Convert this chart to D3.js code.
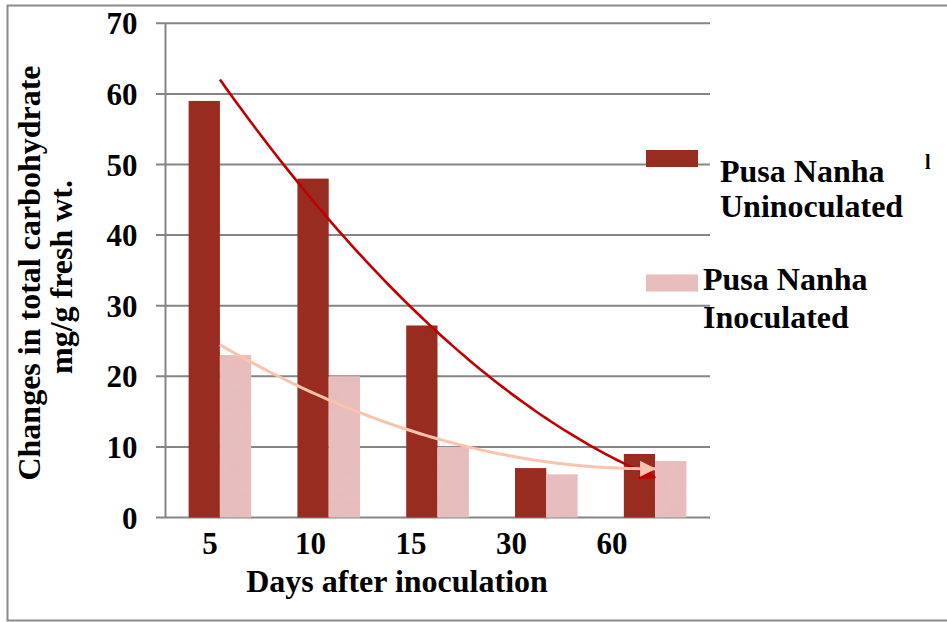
<!DOCTYPE html>
<html>
<head>
<meta charset="utf-8">
<script src="https://cdn.jsdelivr.net/npm/d3@7"></script>
<style>
  html, body { margin: 0; padding: 0; background: #fff; }
  svg { display: block; }
  text { font-family: "Liberation Serif", "Times New Roman", serif; font-weight: bold; fill: #000; }
</style>
</head>
<body>
<svg id="chart" width="947" height="622"></svg>
<script>
// Total carbohydrate (mg/g fresh wt.) by days after inoculation
const categories = ["5", "10", "15", "30", "60"];
const uninoculated = [59, 48, 27.2, 7, 9];
const inoculated = [23, 20, 10, 6.1, 8];
const yTicks = [0, 10, 20, 30, 40, 50, 60, 70];
const seriesLabels = [["Pusa Nanha", "Uninoculated"], ["Pusa Nanha", "Inoculated"]];
const yTitle = ["Changes in total carbohydrate", "mg/g fresh wt."];
const xTitle = "Days after inoculation";

const colors = { dark: "#992C21", pink: "#E8BCBC", darkTrend: "#C00000", pinkTrend: "#F9C3AE", grid: "#858585" };

const svg = d3.select("#chart");
const defs = svg.append("defs");

// subtle mottled texture for the light bars
const f = defs.append("filter").attr("id", "mottle").attr("x", 0).attr("y", 0).attr("width", 1).attr("height", 1);
f.append("feTurbulence").attr("type", "fractalNoise").attr("baseFrequency", 0.07).attr("numOctaves", 2).attr("seed", 4).attr("result", "n");
f.append("feColorMatrix").attr("in", "n").attr("type", "matrix")
  .attr("values", "0 0 0 0 0.76  0 0 0 0 0.52  0 0 0 0 0.52  0 0 0 0.7 -0.18").attr("result", "tint");
f.append("feComposite").attr("in", "tint").attr("in2", "SourceGraphic").attr("operator", "in").attr("result", "t2");
const fm = f.append("feMerge");
fm.append("feMergeNode").attr("in", "SourceGraphic");
fm.append("feMergeNode").attr("in", "t2");

// arrowheads for trend lines
function arrow(id, color) {
  defs.append("marker").attr("id", id)
    .attr("markerUnits", "userSpaceOnUse")
    .attr("viewBox", "0 0 16 16")
    .attr("markerWidth", 16).attr("markerHeight", 16)
    .attr("refX", 15).attr("refY", 8)
    .attr("orient", "auto")
    .append("path").attr("d", "M0,0 L16,8 L0,16 Z").attr("fill", color);
}
arrow("arrDark", colors.darkTrend);
arrow("arrPink", colors.pinkTrend);

// outer frame
svg.append("rect").attr("x", 7.5).attr("y", 5.5).attr("width", 960).attr("height", 615)
  .attr("fill", "none").attr("stroke", "#8a8a8a").attr("stroke-width", 2);

const plot = { left: 165.5, right: 709.5, top: 23.3, bottom: 517.5, gridStart: 156 };

const y = d3.scaleLinear().domain([0, 70]).range([plot.bottom, plot.top]);
const x0 = d3.scaleBand().domain(categories).range([plot.left, plot.right])
  .paddingInner(0.425).paddingOuter(0.2125);
const x1 = d3.scaleBand().domain(["u", "i"]).range([0, x0.bandwidth()]);
const xLabel = d3.scalePoint().domain(categories).range([210, 612]);

// gridlines
svg.append("g").selectAll("line").data(yTicks).join("line")
  .attr("x1", plot.gridStart).attr("x2", plot.right + 0.5)
  .attr("y1", d => y(d)).attr("y2", d => y(d))
  .attr("stroke", colors.grid).attr("stroke-width", 2);

// y axis line
svg.append("line").attr("x1", plot.left).attr("x2", plot.left)
  .attr("y1", y(70)).attr("y2", y(0))
  .attr("stroke", colors.grid).attr("stroke-width", 2);

// y tick labels
const yAxis = svg.append("g").attr("transform", `translate(${plot.left},0)`)
  .call(d3.axisLeft(y).tickValues(yTicks).tickSize(0).tickPadding(28));
yAxis.select(".domain").remove();
yAxis.selectAll("text").attr("font-size", 31).attr("font-family", null).attr("fill", "#000")
  .attr("dy", "0.34em");

// bars
const rows = categories.map((c, i) => ({ c, u: uninoculated[i], i: inoculated[i] }));
const g = svg.append("g");
g.selectAll("rect.u").data(rows).join("rect").attr("class", "u")
  .attr("x", d => x0(d.c) + x1("u")).attr("width", x1.bandwidth())
  .attr("y", d => y(d.u)).attr("height", d => y(0) - y(d.u))
  .attr("fill", colors.dark);
g.selectAll("rect.i").data(rows).join("rect").attr("class", "i")
  .attr("x", d => x0(d.c) + x1("i")).attr("width", x1.bandwidth())
  .attr("y", d => y(d.i)).attr("height", d => y(0) - y(d.i))
  .attr("fill", colors.pink).attr("filter", "url(#mottle)");

// second-order polynomial trend lines (least squares over category index)
function quadFit(vals) {
  const n = vals.length;
  let s0 = n, s1 = 0, s2 = 0, s3 = 0, s4 = 0, t0 = 0, t1 = 0, t2 = 0;
  vals.forEach((v, k) => {
    s1 += k; s2 += k * k; s3 += k ** 3; s4 += k ** 4;
    t0 += v; t1 += k * v; t2 += k * k * v;
  });
  const M = [[s0, s1, s2, t0], [s1, s2, s3, t1], [s2, s3, s4, t2]];
  for (let i = 0; i < 3; i++) {
    for (let j = i + 1; j < 3; j++) {
      const r = M[j][i] / M[i][i];
      for (let k = i; k < 4; k++) M[j][k] -= r * M[i][k];
    }
  }
  const c = [0, 0, 0];
  for (let i = 2; i >= 0; i--) {
    let s = M[i][3];
    for (let k = i + 1; k < 3; k++) s -= M[i][k] * c[k];
    c[i] = s / M[i][i];
  }
  return t => c[0] + c[1] * t + c[2] * t * t;
}
const xIdx = d3.scaleLinear().domain([0, categories.length - 1])
  .range([x0(categories[0]) + x0.bandwidth() / 2, x0(categories[categories.length - 1]) + x0.bandwidth() / 2]);
const line = d3.line().x(d => xIdx(d[0])).y(d => y(d[1])).curve(d3.curveLinear);
function trend(vals, color, marker, width) {
  const fn = quadFit(vals);
  const pts = d3.range(0, categories.length - 1 + 1e-9, 0.05).map(t => [t, fn(t)]);
  svg.append("path").attr("d", line(pts)).attr("fill", "none")
    .attr("stroke", color).attr("stroke-width", width)
    .attr("marker-end", `url(#${marker})`);
}
trend(uninoculated, colors.darkTrend, "arrDark", 2.6);
trend(inoculated, colors.pinkTrend, "arrPink", 3);

// x tick labels
svg.append("g").selectAll("text").data(categories).join("text")
  .attr("x", d => xLabel(d)).attr("y", 554)
  .attr("text-anchor", "middle").attr("font-size", 31).text(d => d);

// axis titles
svg.append("text").attr("x", 397).attr("y", 592).attr("text-anchor", "middle")
  .attr("font-size", 32).text(xTitle);
svg.append("text").attr("transform", "translate(40,273) rotate(-90)")
  .attr("text-anchor", "middle").attr("font-size", 32).text(yTitle[0]);
svg.append("text").attr("transform", "translate(72,277) rotate(-90)")
  .attr("text-anchor", "middle").attr("font-size", 32).text(yTitle[1]);

// legend
const legend = [
  { fill: colors.dark, filter: null, sy: 150, tx: 720, ty: [182, 217] },
  { fill: colors.pink, filter: "url(#mottle)", sy: 274.5, tx: 703, ty: [290, 328] }
];
legend.forEach((l, k) => {
  svg.append("rect").attr("x", 646).attr("y", l.sy).attr("width", 52).attr("height", 17)
    .attr("fill", l.fill).attr("filter", l.filter);
  seriesLabels[k].forEach((s, j) => {
    svg.append("text").attr("x", l.tx).attr("y", l.ty[j]).attr("font-size", 32).text(s);
  });
});
svg.append("text").attr("x", 925).attr("y", 169).attr("font-size", 20).attr("font-weight", "normal").text("l");
</script>
</body>
</html>
